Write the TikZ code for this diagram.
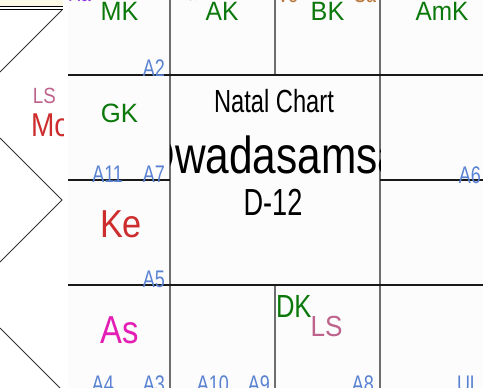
\documentclass[tikz,border=0pt]{standalone}
\usepackage{fontspec}
\setmainfont{Liberation Sans}
\usepackage{graphicx}
\definecolor{kgreen}{RGB}{10,120,10}
\definecolor{kred}{RGB}{205,45,45}
\definecolor{kmag}{RGB}{228,30,180}
\definecolor{kmauve}{RGB}{190,100,140}
\definecolor{kblue}{RGB}{90,130,210}
\definecolor{kpurple}{RGB}{150,60,230}
\definecolor{kbrown}{RGB}{185,120,60}
\definecolor{cream}{RGB}{255,250,232}
\definecolor{gridbg}{RGB}{252,252,252}
\definecolor{vgray}{RGB}{110,110,110}
\newcommand\tx[3]{\scalebox{#2}[1]{\fontsize{#1}{#1}\selectfont #3}}
\begin{document}
\begin{tikzpicture}[x=1pt,y=-1pt,
  t/.style={inner sep=0pt,outer sep=0pt,anchor=base},
  tw/.style={inner sep=0pt,outer sep=0pt,anchor=base west},
  te/.style={inner sep=0pt,outer sep=0pt,anchor=base east},
  hline/.style={draw=black!90,line width=1.3pt},
  vline/.style={draw=vgray,line width=1.5pt},
  diag/.style={draw=black!80,line width=0.8pt},
  alab/.style={te,text=kblue},
  klab/.style={t,text=kgreen}]
\useasboundingbox (0,0) rectangle (483,388);
\fill[white] (0,0) rectangle (483,388);
\fill[gridbg] (68,0) rectangle (483,388);
% left (north indian) panel
\begin{scope}
\clip (0,0) rectangle (63,388);
\fill[cream] (0,0) rectangle (63,6);
\draw[black,line width=1pt] (0,6.5) -- (63,6.5);
\draw[black,line width=1pt] (0,9.8) -- (63,9.8);
\draw[diag] (62,10) -- (0,72);
\draw[diag] (0,138) -- (62,200) -- (0,262);
\draw[diag] (0,328) -- (62,390);
\node[tw,text=kmauve] (lls) at (33,103) {\tx{22}{0.85}{LS}};
\node[tw,text=kred] (lmo) at (31,136) {\tx{33}{0.85}{Mo}};
\end{scope}
% grid lines
\draw[vline] (170,0) -- (170,388);
\draw[vline] (380,0) -- (380,388);
\draw[vline] (275,0) -- (275,75);
\draw[vline] (275,285) -- (275,388);
\draw[hline] (68,75) -- (483,75);
\draw[hline] (68,285) -- (483,285);
\draw[hline] (68,180) -- (170,180);
\draw[hline] (380,180) -- (483,180);
% cut-off texts at the top
\node[tw,text=kpurple] (cut1) at (68,1.5) {\tx{24}{0.75}{Ra}};
\node[tw,text=kgreen] (cut2) at (172,1) {\tx{24}{0.75}{Ma}};
\node[tw,text=kbrown] (cut3) at (277,2) {\tx{24}{0.75}{Ve}};
\node[tw,text=kbrown] (cut4) at (354,2) {\tx{24}{0.75}{Sa}};
% planets / karakas
\node[klab] (mk) at (119.5,20) {\tx{26.5}{0.95}{MK}};
\node[klab] (ak) at (222,20) {\tx{26.5}{0.93}{AK}};
\node[klab] (bk) at (327.5,20) {\tx{26.5}{0.95}{BK}};
\node[klab] (amk) at (442,20) {\tx{26.5}{0.92}{AmK}};
\node[klab] (gk) at (119.5,122) {\tx{26.5}{0.97}{GK}};
\node[t,text=kred] (ke) at (121,237) {\tx{39}{0.88}{Ke}};
\node[t,text=kmag] (as) at (120,343) {\tx{39}{0.84}{As}};
\node[tw,text=kgreen] (dk) at (276,317) {\tx{32}{0.8}{DK}};
\node[tw,text=kmauve] (ls) at (310.5,336) {\tx{29}{0.9}{LS}};
% centre
\node[t] (title) at (274,112) {\tx{32}{0.74}{Natal Chart}};
\begin{scope}
\clip (170,75) rectangle (380,285);
\node[t] (dname) at (273,173) {\tx{52}{0.815}{Dwadasamsa}};
\end{scope}
\node[t] (dnum) at (273,215) {\tx{37.7}{0.72}{D-12}};
% arudha labels
\node[alab] (a2) at (165,77) {\tx{24}{0.75}{A2}};
\node[alab] (a11) at (123,182) {\tx{24}{0.75}{A11}};
\node[alab] (a7) at (165,182) {\tx{24}{0.75}{A7}};
\node[alab] (a5) at (165,287) {\tx{24}{0.75}{A5}};
\node[alab] (a4) at (114,392) {\tx{24}{0.75}{A4}};
\node[alab] (a3) at (165,392) {\tx{24}{0.75}{A3}};
\node[alab] (a10) at (229,392) {\tx{24}{0.75}{A10}};
\node[alab] (a9) at (270,392) {\tx{24}{0.75}{A9}};
\node[alab] (a8) at (374,392) {\tx{24}{0.75}{A8}};
\node[tw,text=kblue] (ul) at (457,392) {\tx{24}{0.75}{UL}};
\node[alab] (a6) at (481,183) {\tx{24}{0.75}{A6}};
\end{tikzpicture}
\end{document}
